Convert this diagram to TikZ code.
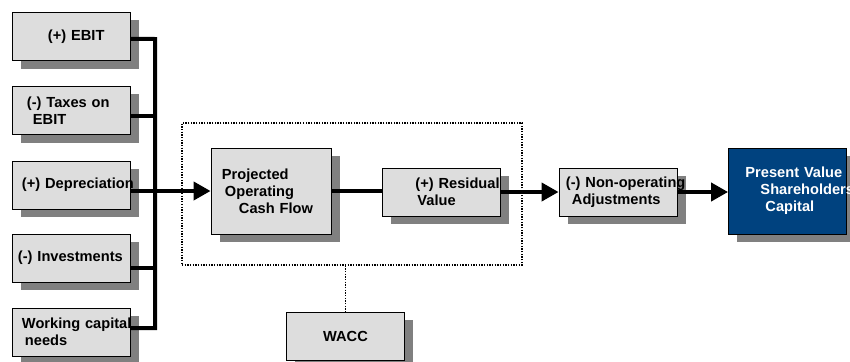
\documentclass[tikz,border=0pt]{standalone}
\usepackage{fontspec}
\setmainfont{Liberation Sans}
\usepackage{tikz}
\usetikzlibrary{arrows.meta}
\usetikzlibrary{shadows}

\definecolor{boxgray}{HTML}{DDDDDD}
\definecolor{shadegray}{HTML}{808080}
\definecolor{valueblue}{HTML}{00427F}

\setlength{\parindent}{0pt}
\newlength{\pxunit}
\setlength{\pxunit}{0.25mm}
\newcommand{\indline}[2]{\hspace*{#1\pxunit}\mbox{#2}}

\tikzset{
    block/.style={draw=black, line width=0.6pt, fill=boxgray,
        minimum width=2.95cm, minimum height=1.2cm,
        text width=2.95cm, inner xsep=0pt, align=left,
        font=\bfseries\fontsize{10.4}{12}\selectfont,
        drop shadow={shadow xshift=0.22cm, shadow yshift=-0.2cm, fill=shadegray, opacity=1}},
    tallblock/.style={block, minimum height=2.15cm},
    feed/.style={line width=1mm},
    flow/.style={feed, -{Triangle[length=4.25mm, width=4.5mm]}},
    link/.style={line width=0.95pt, dash pattern=on 0.95pt off 0.95pt},
}

\begin{document}
\begin{tikzpicture}[x=0.025cm, y=-0.025cm]
    \useasboundingbox (0,0) rectangle (850,362);

    \node[link, draw, minimum width=8.5cm, minimum height=3.55cm] (cfframe) at (352,194) {};

    \node[block] (ebit) at (71,36.5) {\indline{36}{(+) EBIT}};
    \node[block] (taxes) at (71,110.5) {\indline{15}{(-) Taxes on}\\ \indline{21}{EBIT}};
    \node[block] (deprec) at (71,185) {\indline{10}{(+) Depreciation}};
    \node[block] (invest) at (71,258) {\indline{6}{(-) Investments}};
    \node[block] (wcap) at (71,332) {\indline{10}{Working capital}\\ \indline{13}{needs}};

    \node[tallblock, text width=3cm, minimum width=3cm] (proj) at (271,191)
        {\indline{11}{Projected}\\ \indline{14}{Operating}\\ \indline{28}{Cash Flow}};
    \node[block] (resid) at (441.5,192) {\indline{33}{(+) Residual}\\ \indline{35}{Value}};
    \node[block] (nonop) at (618,192) {\indline{7}{(-) Non-operating}\\ \indline{13}{Adjustments}};
    \node[tallblock, fill=valueblue, text=white] (pv) at (787.5,191)
        {\indline{17}{Present Value}\\ \indline{32}{Shareholders}\\ \indline{37}{Capital}};
    \node[block, align=center] (wacc) at (345.5,336) {WACC};

    \coordinate (bustop) at (155,39);
    \coordinate (busbot) at (155,328);
    \draw[feed] ([yshift=-0.6mm]ebit.east) -- (bustop) -- (busbot) -- ([yshift=1mm]wcap.east);
    \foreach \nm/\dy in {taxes/-1.4mm, invest/-2.5mm}{
        \draw[feed] ([yshift=\dy]\nm.east) -- ++(25,0);
    }
    \draw[flow] (proj.west -| deprec.east) -- (proj.west);
    \draw[feed] (proj.east) -- (proj.east -| resid.west);
    \draw[flow] (resid.east) -- (resid.east -| nonop.west);
    \draw[flow] (nonop.east) -- (nonop.east -| pv.west);
    \draw[link] (cfframe.south -| wacc.north) -- (wacc.north);
\end{tikzpicture}
\end{document}
